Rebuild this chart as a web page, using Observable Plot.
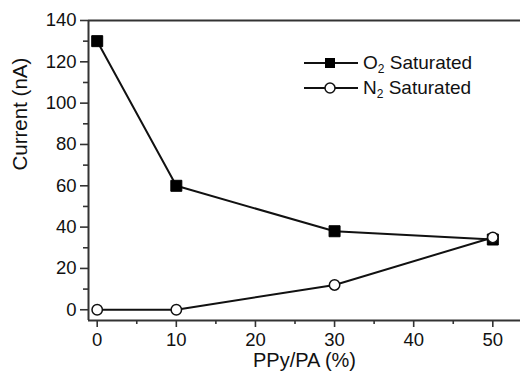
<!DOCTYPE html>
<html><head><meta charset="utf-8">
<script src="https://cdn.jsdelivr.net/npm/d3@7"></script>
<script src="https://cdn.jsdelivr.net/npm/@observablehq/plot@0.6"></script>
<style>
body{margin:0;background:#fff;}
#wrap{position:relative;width:521px;height:381px;font-family:"Liberation Sans",Arial,sans-serif;}
.leg{position:absolute;left:304px;height:22px;font-size:19px;color:#111;display:flex;align-items:center;white-space:nowrap;}
.leg svg{display:block;margin-right:5px;}
.leg sub{font-size:12px;position:relative;top:4px;vertical-align:baseline;}
</style></head><body><div id="wrap"></div>
<script>
const xValues = [0, 10, 30, 50];
const o2Values = [130, 60, 38, 34];
const n2Values = [0, 0, 12, 35];
const xTicks = [0, 10, 20, 30, 40, 50];
const xMinorTicks = [5, 15, 25, 35, 45];
const yTicks = [0, 20, 40, 60, 80, 100, 120, 140];
const yMinorTicks = [10, 30, 50, 70, 90, 110, 130];
const xDomain = [-1.1, 53.5];
const yDomain = [-5.2, 140];
const seriesNames = ["O2 Saturated", "N2 Saturated"];

const o2 = xValues.map((x, i) => ({x, y: o2Values[i]}));
const n2 = xValues.map((x, i) => ({x, y: n2Values[i]}));

const frameColor = "#333";
const chart = Plot.plot({
  width: 521, height: 381,
  marginLeft: 88, marginRight: 1, marginTop: 20, marginBottom: 61,
  style: {fontFamily: '"Liberation Sans", Arial, sans-serif', fontSize: "18px", color: "#111", background: "#fff"},
  x: {domain: xDomain, axis: null},
  y: {domain: yDomain, axis: null},
  marks: [
    Plot.axisY(yTicks, {tickSize: 8, tickPadding: 4, fontSize: 18.5, stroke: frameColor, strokeWidth: 1.6, label: null}),
    Plot.axisY(yMinorTicks, {tickSize: 5, tickFormat: () => "", stroke: frameColor, strokeWidth: 1.6, label: null}),
    Plot.axisX(xTicks, {tickSize: 7, tickPadding: 5, fontSize: 18.5, stroke: frameColor, strokeWidth: 1.6, label: null}),
    Plot.axisX(xMinorTicks, {tickSize: 4, tickFormat: () => "", stroke: frameColor, strokeWidth: 1.6, label: null}),
    Plot.ruleX([xDomain[0]], {stroke: frameColor, strokeWidth: 2}),
    Plot.ruleY([yDomain[0]], {stroke: frameColor, strokeWidth: 2}),
    Plot.ruleY([yDomain[1]], {stroke: frameColor, strokeWidth: 2}),
    Plot.text(["Current (nA)"], {frameAnchor: "left", rotate: -90, dx: -68, fontSize: 20.5, fill: "#111"}),
    Plot.text(["PPy/PA (%)"], {frameAnchor: "bottom", lineAnchor: "middle", dy: 40, fontSize: 20, fill: "#111"}),
    Plot.line(n2, {x: "x", y: "y", stroke: "#111", strokeWidth: 2}),
    Plot.line(o2, {x: "x", y: "y", stroke: "#111", strokeWidth: 2}),
    Plot.dot(o2, {x: "x", y: "y", symbol: "square", r: 6.2, fill: "#000", stroke: "#000", strokeWidth: 1}),
    Plot.dot(n2, {x: "x", y: "y", symbol: "circle", r: 5.2, fill: "#fff", stroke: "#111", strokeWidth: 1.5})
  ]
});
const wrap = document.getElementById("wrap");
wrap.appendChild(chart);

function legendRow(top, symbol, label) {
  const d = document.createElement("div");
  d.className = "leg";
  d.style.top = (top - 11) + "px";
  const mark = symbol === "square"
    ? '<rect x="21" y="6" width="10" height="10" fill="#000"/>'
    : '<circle cx="26" cy="11" r="5" fill="#fff" stroke="#111" stroke-width="1.5"/>';
  const [chem, rest] = label.split(" ");
  d.innerHTML = '<svg width="54" height="22"><line x1="0" x2="54" y1="11" y2="11" stroke="#111" stroke-width="2"/>' + mark + '</svg>' +
    '<span>' + chem[0] + '<sub>' + chem.slice(1) + '</sub> ' + rest + '</span>';
  wrap.appendChild(d);
}
legendRow(63, "square", seriesNames[0]);
legendRow(88, "circle", seriesNames[1]);
</script></body></html>
